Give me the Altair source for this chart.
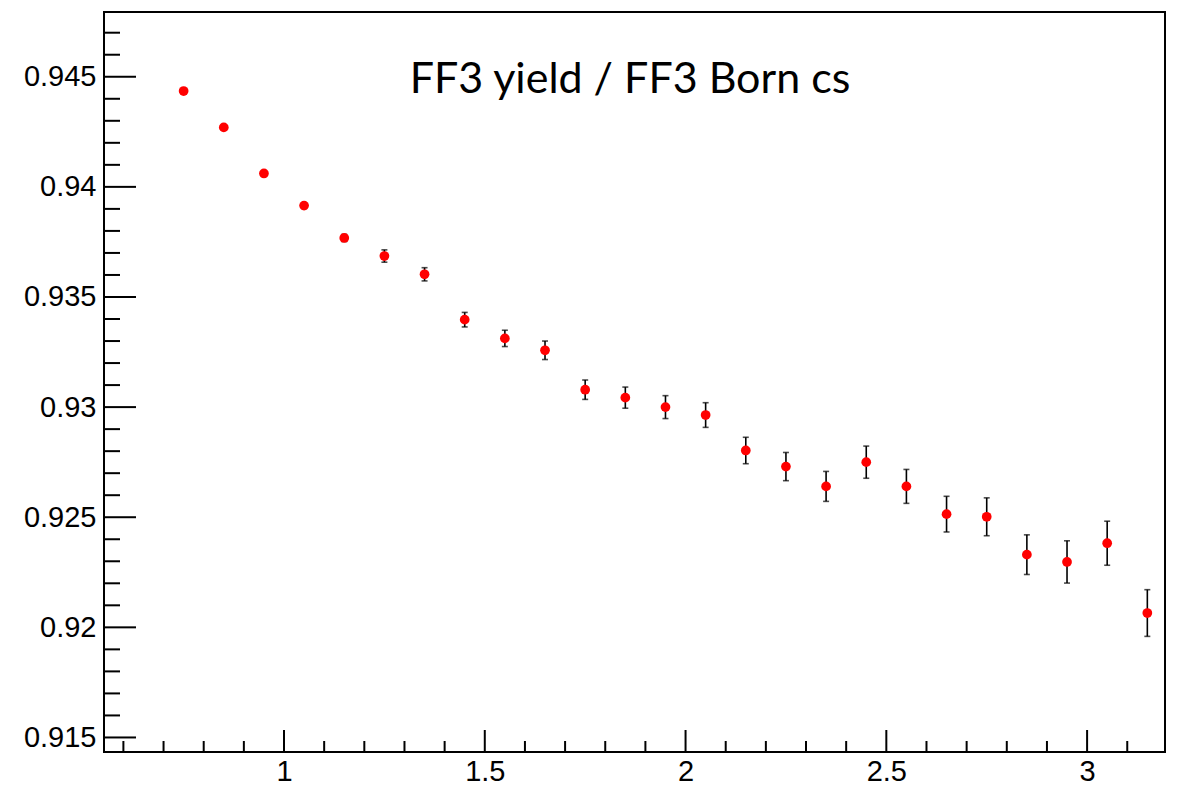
import altair as alt
import pandas as pd

# ---- data ----
x_vals = [0.75, 0.85, 0.95, 1.05, 1.15, 1.25, 1.35, 1.45, 1.55, 1.65, 1.75, 1.85, 1.95,
          2.05, 2.15, 2.25, 2.35, 2.45, 2.55, 2.65, 2.75, 2.85, 2.95, 3.05, 3.15]
y_vals = [0.94435, 0.94270, 0.94061, 0.93915, 0.93768, 0.93686, 0.93603, 0.93397, 0.93312,
          0.93258, 0.93079, 0.93043, 0.93000, 0.92964, 0.92803, 0.92730, 0.92640, 0.92750,
          0.92640, 0.92514, 0.92502, 0.92330, 0.92297, 0.92382, 0.92065]
y_errs = [0.00006, 0.00008, 0.00010, 0.00013, 0.00016, 0.00028, 0.00030, 0.00033, 0.00037,
          0.00042, 0.00044, 0.00048, 0.00052, 0.00056, 0.00060, 0.00064, 0.00068, 0.00073,
          0.00077, 0.00081, 0.00086, 0.00090, 0.00096, 0.00100, 0.00106]
title_text = "FF3 yield / FF3 Born cs"

x_major = [1, 1.5, 2, 2.5, 3]
x_minor = [0.6, 0.7, 0.8, 0.9, 1.1, 1.2, 1.3, 1.4, 1.6, 1.7, 1.8, 1.9, 2.1, 2.2, 2.3, 2.4,
           2.6, 2.7, 2.8, 2.9, 3.1]
y_major = [0.915, 0.92, 0.925, 0.93, 0.935, 0.94, 0.945]
y_minor = [0.916, 0.917, 0.918, 0.919, 0.921, 0.922, 0.923, 0.924, 0.926, 0.927, 0.928,
           0.929, 0.931, 0.932, 0.933, 0.934, 0.936, 0.937, 0.938, 0.939, 0.941, 0.942,
           0.943, 0.944, 0.946, 0.947]
x_domain = [0.5517, 3.194]
y_domain = [0.91434, 0.94794]

W, H = 1061, 740

df = pd.DataFrame({"x": x_vals, "y": y_vals, "err": y_errs})
df["lo"] = df["y"] - df["err"]
df["hi"] = df["y"] + df["err"]

xs = alt.Scale(domain=x_domain, nice=False, zero=False)
ys = alt.Scale(domain=y_domain, nice=False, zero=False)

LABEL_FONT = "Liberation Sans"
xaxis = alt.Axis(values=x_major, format="~g", title=None, ticks=False, tickSize=0,
                 domain=False, grid=False, labelFont=LABEL_FONT, labelFontSize=29,
                 labelColor="black", labelPadding=5, labelFlush=False)
yaxis = alt.Axis(values=y_major, format="~g", title=None, ticks=False, tickSize=0,
                 domain=False, grid=False, labelFont=LABEL_FONT, labelFontSize=29,
                 labelColor="black", labelPadding=8)

bars = alt.Chart(df).mark_rule(color="black", strokeWidth=1.6).encode(
    x=alt.X("x:Q", scale=xs, axis=xaxis),
    y=alt.Y("lo:Q", scale=ys, axis=yaxis),
    y2="hi:Q",
)
cap_lo = alt.Chart(df).mark_tick(orient="horizontal", color="black", size=6, thickness=1.6).encode(
    x=alt.X("x:Q", scale=xs, axis=xaxis),
    y=alt.Y("lo:Q", scale=ys, axis=yaxis),
)
cap_hi = alt.Chart(df).mark_tick(orient="horizontal", color="black", size=6, thickness=1.6).encode(
    x=alt.X("x:Q", scale=xs, axis=xaxis),
    y=alt.Y("hi:Q", scale=ys, axis=yaxis),
)
points = alt.Chart(df).mark_circle(color="#ff0000", opacity=1, size=95).encode(
    x=alt.X("x:Q", scale=xs, axis=xaxis),
    y=alt.Y("y:Q", scale=ys, axis=yaxis),
)

def xticks(vals, length):
    return alt.Chart(pd.DataFrame({"v": vals})).mark_rule(color="black", strokeWidth=2).encode(
        x=alt.X("v:Q", scale=xs, axis=xaxis),
        y=alt.value(H),
        y2=alt.value(H - length),
    )

def yticks(vals, length):
    return alt.Chart(pd.DataFrame({"v": vals})).mark_rule(color="black", strokeWidth=2).encode(
        y=alt.Y("v:Q", scale=ys, axis=yaxis),
        x=alt.value(0),
        x2=alt.value(length),
    )

title = alt.Chart(pd.DataFrame({"t": [title_text]})).mark_text(
    font="Lato", fontSize=43, color="black", align="center", baseline="alphabetic"
).encode(x=alt.value(526), y=alt.value(81), text="t:N")

chart = alt.layer(
    xticks(x_major, 22), xticks(x_minor, 11),
    yticks(y_major, 32), yticks(y_minor, 16),
    bars, cap_lo, cap_hi, points, title,
).properties(
    width=W, height=H,
    autosize=alt.AutoSizeParams(type="none"),
    padding={"left": 104, "top": 12, "right": 14, "bottom": 37},
    background="white",
).configure_view(stroke="black", strokeWidth=2)

chart.save("out.html", embed_options={"renderer": "svg", "actions": False})
